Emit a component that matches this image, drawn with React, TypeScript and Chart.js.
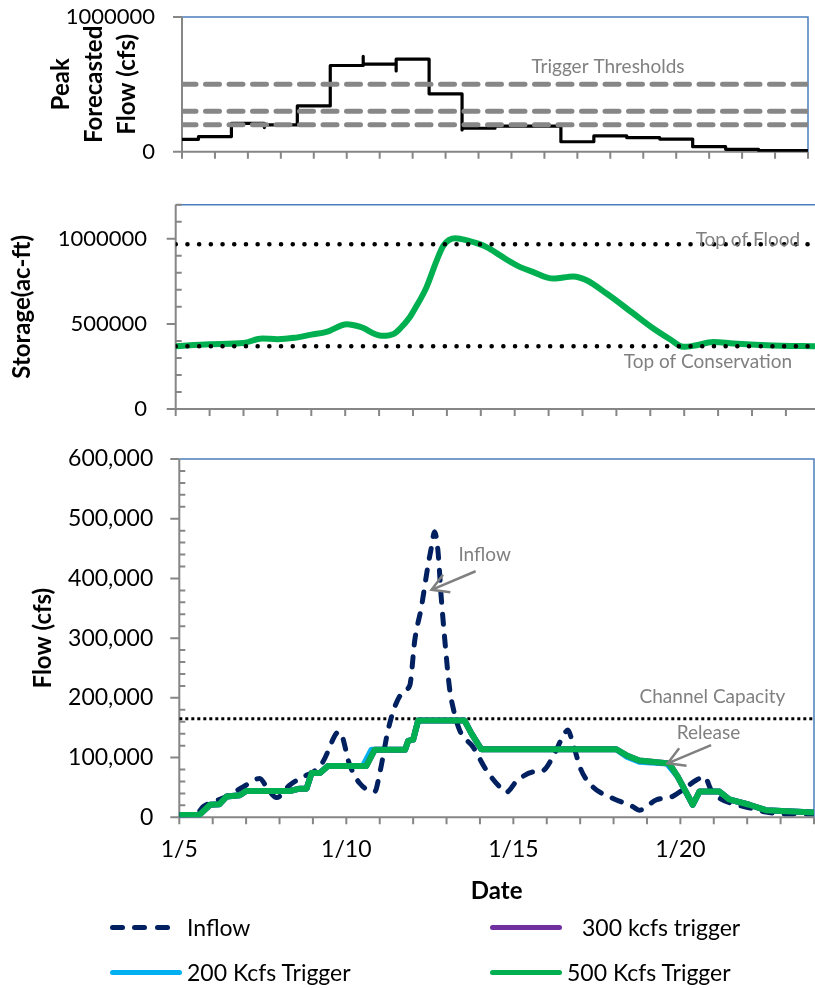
import React, { useEffect, useRef } from 'react';
import { Chart, registerables } from 'chart.js';

Chart.register(...registerables);

const FONT = 'Lato, "Open Sans", "DejaVu Sans", sans-serif';
Chart.defaults.font.family = FONT;
Chart.defaults.color = '#000';

const AXIS_GRAY = '#868686';
const FRAME_BLUE = '#4A7EBB';
const NOTE_GRAY = '#808080';
const INFLOW_NAVY = '#002060';
const GREEN = '#00B050';
const SKY = '#00B0F0';
const PURPLE = '#7030A0';

// Day-of-January range shared by all three panels
const DAY_MIN = 5;
const DAY_MAX = 24;

// Panel 1: peak forecasted flow (cfs), held as a step from each day value to the next
const forecastDays = [5, 5.5, 6.5, 7.5, 7.5, 8.5, 9.5, 10.5, 10.5, 11.5, 11.5, 12.5, 13.5, 13.5, 14.5, 16.5, 17.5, 18.5, 19.5, 20.5, 21.5, 22.5, 24];
const forecastPeak = [92000, 112000, 211000, 179000, 199000, 340000, 640000, 707000, 650000, 600000, 687000, 430000, 161000, 174000, 190000, 74000, 117000, 104000, 94000, 37000, 18000, 8000, 8000];
const triggerThresholds = [500000, 300000, 200000];

// Panel 2: reservoir storage (ac-ft)
const storageDays = [5, 6, 7, 7.55, 8, 8.5, 9, 9.45, 10.05, 10.45, 11.08, 11.45, 11.62, 11.91, 12.06, 12.4, 12.7, 12.9, 13.25, 13.6, 14.17, 14.57, 15.06, 15.55, 16.14, 16.73, 17.12, 17.71, 18.5, 19.09, 19.58, 19.97, 20.27, 20.86, 21.45, 22.43, 24];
const storageVals = [369000, 381000, 388000, 414000, 410000, 418000, 437000, 453000, 498000, 482000, 430000, 443000, 473000, 541000, 590000, 716000, 873000, 961000, 1003000, 990000, 951000, 902000, 844000, 804000, 766000, 779000, 756000, 678000, 561000, 473000, 410000, 365000, 371000, 394000, 385000, 375000, 368000];
const topOfFlood = 967000;
const topOfConservation = 369000;

// Panel 3: inflow and release (cfs)
const inflowDays = [5, 5.5, 5.72, 6.02, 6.42, 6.91, 7.41, 7.61, 7.91, 8.31, 8.71, 9.01, 9.3, 9.71, 9.8, 10.1, 10.4, 10.85, 11.0, 11.25, 11.45, 11.75, 11.9, 12.05, 12.25, 12.44, 12.55, 12.64, 12.74, 12.84, 12.94, 13.09, 13.19, 13.39, 13.79, 14.19, 14.59, 14.79, 15.09, 15.58, 15.88, 16.18, 16.48, 16.63, 16.78, 17.03, 17.38, 17.97, 18.57, 18.77, 19.27, 19.77, 20.07, 20.47, 20.72, 20.92, 21.17, 21.56, 22.06, 22.56, 23.06, 24];
const inflowVals = [4000, 5000, 18000, 26000, 35000, 51000, 65000, 51000, 33000, 54000, 68000, 76000, 93000, 141000, 143000, 88000, 57000, 43000, 74000, 146000, 185000, 213000, 221000, 297000, 353000, 420000, 453000, 478000, 448000, 369000, 302000, 216000, 185000, 146000, 118000, 79000, 51000, 42000, 60000, 76000, 78000, 101000, 135000, 146000, 124000, 79000, 51000, 32000, 18000, 12000, 29000, 35000, 46000, 62000, 68000, 46000, 32000, 23000, 16000, 9000, 6000, 6000];

const release500Days = [5, 5.6, 5.92, 6.2, 6.42, 6.81, 7.0, 8.31, 8.6, 8.81, 8.96, 9.21, 9.45, 10.6, 10.85, 11.76, 11.85, 12.0, 12.15, 13.54, 13.74, 14.04, 18.08, 18.38, 18.77, 19.67, 19.92, 20.37, 20.57, 21.17, 21.46, 22.06, 22.56, 24];
const release500Vals = [4000, 4000, 21000, 22000, 35000, 37000, 44000, 44000, 48000, 48000, 74000, 74000, 86000, 86000, 113000, 113000, 128000, 130000, 162000, 162000, 141000, 114000, 114000, 104000, 95000, 90000, 68000, 21000, 43000, 43000, 30000, 21000, 12000, 8000];

const release200Days = [5, 5.6, 5.92, 6.2, 6.42, 6.81, 7.0, 8.31, 8.6, 8.81, 8.96, 9.21, 9.45, 10.5, 10.75, 11.76, 11.85, 12.0, 12.15, 13.54, 13.74, 14.04, 18.08, 18.38, 18.77, 19.6, 19.92, 20.37, 20.57, 21.17, 21.46, 22.06, 22.56, 24];
const release200Vals = [4000, 4000, 21000, 22000, 35000, 37000, 44000, 44000, 48000, 48000, 74000, 74000, 86000, 86000, 113000, 113000, 128000, 130000, 162000, 162000, 141000, 114000, 114000, 102000, 93000, 90000, 68000, 21000, 43000, 43000, 30000, 21000, 12000, 8000];

// The 300 kcfs run follows the same release schedule as the 500 kcfs run
const release300Days = release500Days;
const release300Vals = release500Vals;

const channelCapacity = 165000;

const pts = (xs: number[], ys: number[]) => xs.map((x, i) => ({ x, y: ys[i] }));
const flat = (v: number) => [{ x: DAY_MIN, y: v }, { x: DAY_MAX, y: v }];

// Plot frame: blue top/right border, grey axes with major (outside) and minor (inside) ticks
const framePlugin = {
  id: 'frame',
  beforeDatasetsDraw(chart: any, _args: any, opts: any) {
    const { ctx, chartArea: a } = chart;
    const x = chart.scales.x;
    const y = chart.scales.y;
    ctx.save();
    ctx.lineCap = 'butt';
    ctx.strokeStyle = FRAME_BLUE;
    ctx.lineWidth = 1.5;
    ctx.beginPath();
    ctx.moveTo(a.left, a.top);
    ctx.lineTo(a.right, a.top);
    ctx.lineTo(a.right, a.bottom);
    ctx.stroke();

    ctx.strokeStyle = AXIS_GRAY;
    ctx.lineWidth = 2;
    ctx.beginPath();
    ctx.moveTo(a.left, a.top);
    ctx.lineTo(a.left, a.bottom);
    ctx.lineTo(a.right, a.bottom);
    const majors: number[] = y.ticks.map((t: any) => t.value);
    for (const v of majors) {
      const p = y.getPixelForValue(v);
      ctx.moveTo(a.left - 9, p);
      ctx.lineTo(a.left, p);
    }
    if (opts && opts.minorStep) {
      for (let v = y.min; v <= y.max + 1e-6; v += opts.minorStep) {
        if (majors.some((m) => Math.abs(m - v) < 1e-6)) continue;
        const p = y.getPixelForValue(v);
        ctx.moveTo(a.left, p);
        ctx.lineTo(a.left + 6, p);
      }
    }
    for (let d = x.min; d <= x.max + 1e-6; d += 1) {
      const p = x.getPixelForValue(d);
      ctx.moveTo(p, a.bottom);
      ctx.lineTo(p, a.bottom + 7);
    }
    ctx.stroke();
    ctx.restore();
  },
};

// Grey call-out text and arrows placed in data coordinates
const notesPlugin = {
  id: 'notes',
  afterDatasetsDraw(chart: any, _args: any, opts: any) {
    const { ctx } = chart;
    const x = chart.scales.x;
    const y = chart.scales.y;
    ctx.save();
    ctx.fillStyle = NOTE_GRAY;
    ctx.strokeStyle = NOTE_GRAY;
    ctx.font = `19px ${FONT}`;
    ctx.textAlign = 'center';
    ctx.textBaseline = 'middle';
    for (const n of (opts && opts.labels) || []) {
      ctx.fillText(n.text, x.getPixelForValue(n.x), y.getPixelForValue(n.y));
    }
    ctx.lineWidth = 2.5;
    ctx.lineCap = 'butt';
    for (const ar of (opts && opts.arrows) || []) {
      const x1 = x.getPixelForValue(ar.from[0]);
      const y1 = y.getPixelForValue(ar.from[1]);
      const x2 = x.getPixelForValue(ar.to[0]);
      const y2 = y.getPixelForValue(ar.to[1]);
      const ang = Math.atan2(y2 - y1, x2 - x1);
      const head = 19;
      const spread = Math.PI / 6;
      ctx.beginPath();
      ctx.moveTo(x1, y1);
      ctx.lineTo(x2, y2);
      ctx.moveTo(x2 - head * Math.cos(ang - spread), y2 - head * Math.sin(ang - spread));
      ctx.lineTo(x2, y2);
      ctx.lineTo(x2 - head * Math.cos(ang + spread), y2 - head * Math.sin(ang + spread));
      ctx.stroke();
    }
    ctx.restore();
  },
};

const hidden = { display: false, drawTicks: false };
const noBorder = { display: false };

// Fixed axis sizes; the label overhang is already covered by the layout padding
const fixedWidth = (w: number) => (s: any) => {
  s.width = w;
  s.paddingTop = 0;
  s.paddingBottom = 0;
};
const fixedHeight = (h: number) => (s: any) => {
  s.height = h;
  s.paddingLeft = 0;
  s.paddingRight = 0;
};

function xDays(height: number, labels?: any) {
  return {
    type: 'linear',
    min: DAY_MIN,
    max: DAY_MAX,
    grid: hidden,
    border: noBorder,
    ticks: labels || { display: false },
    afterFit: fixedHeight(height),
  };
}

function baseOptions(padding: any, scales: any, plugins: any) {
  return {
    animation: false,
    responsive: false,
    devicePixelRatio: 1,
    layout: { padding },
    elements: { point: { radius: 0 }, line: { borderJoinStyle: 'round' } },
    plugins: { legend: { display: false }, tooltip: { enabled: false }, ...plugins },
    scales,
  };
}

const TITLE_SIZE = 24;

export default function App() {
  const c1 = useRef<HTMLCanvasElement>(null);
  const c2 = useRef<HTMLCanvasElement>(null);
  const c3 = useRef<HTMLCanvasElement>(null);

  useEffect(() => {
    const forecastChart = new Chart(c1.current as HTMLCanvasElement, {
      type: 'line',
      data: {
        datasets: [
          ...triggerThresholds.map((v) => ({
            data: flat(v),
            borderColor: '#878787',
            borderWidth: 5,
            borderDash: [14, 9.5],
            borderCapStyle: 'round',
          })),
          {
            data: pts(forecastDays, forecastPeak),
            stepped: true,
            borderColor: '#000',
            borderWidth: 3.2,
          },
        ],
      } as any,
      options: baseOptions(
        { left: 0, top: 17, right: 7, bottom: 18.3 },
        {
          x: xDays(10),
          y: {
            min: 0,
            max: 1000000,
            afterBuildTicks: (s: any) => {
              s.ticks = [0, 1000000].map((value) => ({ value }));
            },
            grid: hidden,
            border: noBorder,
            ticks: { callback: (v: any) => String(v), font: { size: 22 }, color: '#000', padding: 27 },
            title: {
              display: true,
              text: ['Peak', 'Forecasted', 'Flow (cfs)'],
              font: { size: TITLE_SIZE, weight: 'bold', lineHeight: 33 / TITLE_SIZE },
              color: '#000',
              padding: { top: 44.5, bottom: 0 },
            },
            afterFit: fixedWidth(182),
          },
        },
        { notes: { labels: [{ text: 'Trigger Thresholds', x: 17.93, y: 630000 }] } }
      ) as any,
      plugins: [framePlugin, notesPlugin],
    });

    const storageChart = new Chart(c2.current as HTMLCanvasElement, {
      type: 'line',
      data: {
        datasets: [
          {
            data: flat(topOfFlood),
            borderColor: '#000',
            borderWidth: 4.5,
            borderDash: [0.1, 11.6],
            borderCapStyle: 'round',
          },
          {
            data: flat(topOfConservation),
            borderColor: '#000',
            borderWidth: 4.5,
            borderDash: [0.1, 11.6],
            borderCapStyle: 'round',
          },
          {
            data: pts(storageDays, storageVals),
            borderColor: GREEN,
            borderWidth: 6,
            cubicInterpolationMode: 'monotone',
          },
        ],
      } as any,
      options: baseOptions(
        { left: 0, top: 24.7, right: 10.2, bottom: 11 },
        {
          x: xDays(10),
          y: {
            min: 0,
            max: 1200000,
            afterBuildTicks: (s: any) => {
              s.ticks = [0, 500000, 1000000].map((value) => ({ value }));
            },
            grid: hidden,
            border: noBorder,
            ticks: { callback: (v: any) => String(v), font: { size: 22 }, color: '#000', padding: 28.7 },
            title: {
              display: true,
              text: 'Storage(ac-ft)',
              font: { size: TITLE_SIZE, weight: 'bold', lineHeight: 1.2 },
              color: '#000',
              padding: { top: 7.6, bottom: 0 },
            },
            afterFit: fixedWidth(175.7),
          },
        },
        {
          frame: { minorStep: 100000 },
          notes: {
            labels: [
              { text: 'Top of Flood', x: 21.88, y: 996000 },
              { text: 'Top of Conservation', x: 20.7, y: 277000 },
            ],
          },
        }
      ) as any,
      plugins: [framePlugin, notesPlugin],
    });

    const flowChart = new Chart(c3.current as HTMLCanvasElement, {
      type: 'line',
      data: {
        datasets: [
          {
            label: '500 Kcfs Trigger',
            data: pts(release500Days, release500Vals),
            borderColor: GREEN,
            borderWidth: 6,
          },
          {
            label: 'Inflow',
            data: pts(inflowDays, inflowVals),
            borderColor: INFLOW_NAVY,
            borderWidth: 5,
            borderDash: [10, 12],
            borderCapStyle: 'round',
            cubicInterpolationMode: 'monotone',
          },
          {
            label: '300 kcfs trigger',
            data: pts(release300Days, release300Vals),
            borderColor: PURPLE,
            borderWidth: 6,
          },
          {
            label: '200 Kcfs Trigger',
            data: pts(release200Days, release200Vals),
            borderColor: SKY,
            borderWidth: 6,
          },
          {
            label: 'Channel Capacity',
            data: flat(channelCapacity),
            borderColor: '#000',
            borderWidth: 3,
            borderDash: [3, 3],
          },
        ],
      } as any,
      options: baseOptions(
        { left: 0, top: 29, right: 1, bottom: 80.7 },
        {
          x: {
            ...xDays(90, {
              stepSize: 1,
              autoSkip: false,
              maxRotation: 0,
              minRotation: 0,
              font: { size: 23 },
              color: '#000',
              padding: 18,
              callback: (v: any) => (Number(v) % 5 === 0 ? `1/${v}` : ''),
            }),
            title: {
              display: true,
              text: 'Date',
              font: { size: TITLE_SIZE, weight: 'bold', lineHeight: 1.2 },
              color: '#000',
              padding: { top: 0, bottom: 1.2 },
            },
          },
          y: {
            min: 0,
            max: 600000,
            grid: hidden,
            border: noBorder,
            ticks: {
              stepSize: 100000,
              callback: (v: any) => Number(v).toLocaleString('en-US'),
              font: { size: 23 },
              color: '#000',
              padding: 26,
            },
            title: {
              display: true,
              text: 'Flow (cfs)',
              font: { size: TITLE_SIZE, weight: 'bold', lineHeight: 1.2 },
              color: '#000',
              padding: { top: 28.6, bottom: 0 },
            },
            afterFit: fixedWidth(179.3),
          },
        },
        {
          frame: { minorStep: 20000 },
          notes: {
            labels: [
              { text: 'Inflow', x: 14.14, y: 439000 },
              { text: 'Channel Capacity', x: 20.96, y: 202000 },
              { text: 'Release', x: 20.84, y: 141000 },
            ],
            arrows: [
              { from: [13.87, 412000], to: [12.55, 381000] },
              { from: [20.92, 121000], to: [19.62, 90400] },
            ],
          },
        }
      ) as any,
      plugins: [framePlugin, notesPlugin],
    });

    return () => {
      forecastChart.destroy();
      storageChart.destroy();
      flowChart.destroy();
    };
  }, []);

  const legendText: React.CSSProperties = {
    position: 'absolute',
    fontFamily: FONT,
    fontSize: 23,
    lineHeight: '28px',
    color: '#000',
    whiteSpace: 'nowrap',
  };
  const swatch = (left: number, top: number, width: number, color: string): React.CSSProperties => ({
    position: 'absolute',
    left,
    top: top - 2.5,
    width,
    height: 5,
    borderRadius: 2.5,
    background: color,
  });

  return (
    <div style={{ position: 'absolute', left: 0, top: 0, width: 815, height: 988, overflow: 'hidden', background: '#fff' }}>
      <canvas ref={c1} width={815} height={180} style={{ position: 'absolute', left: 0, top: 0 }} />
      <div style={{ position: 'absolute', left: 0, top: 180, width: 815, height: 250, overflow: 'hidden' }}>
        <canvas ref={c2} width={830} height={250} style={{ position: 'absolute', left: 0, top: 0 }} />
      </div>
      <canvas ref={c3} width={815} height={558} style={{ position: 'absolute', left: 0, top: 430 }} />

      <div style={swatch(110, 927, 15, INFLOW_NAVY)} />
      <div style={swatch(132, 927, 15, INFLOW_NAVY)} />
      <div style={swatch(155, 927, 15, INFLOW_NAVY)} />
      <span style={{ ...legendText, left: 187, top: 927 - 14 }}>Inflow</span>

      <div style={swatch(490, 927, 72, PURPLE)} />
      <span style={{ ...legendText, left: 582, top: 927 - 14 }}>300 kcfs trigger</span>

      <div style={swatch(110, 972, 72, SKY)} />
      <span style={{ ...legendText, left: 187, top: 972 - 14 }}>200 Kcfs Trigger</span>

      <div style={swatch(490, 972, 72, GREEN)} />
      <span style={{ ...legendText, left: 567, top: 972 - 14 }}>500 Kcfs Trigger</span>
    </div>
  );
}
